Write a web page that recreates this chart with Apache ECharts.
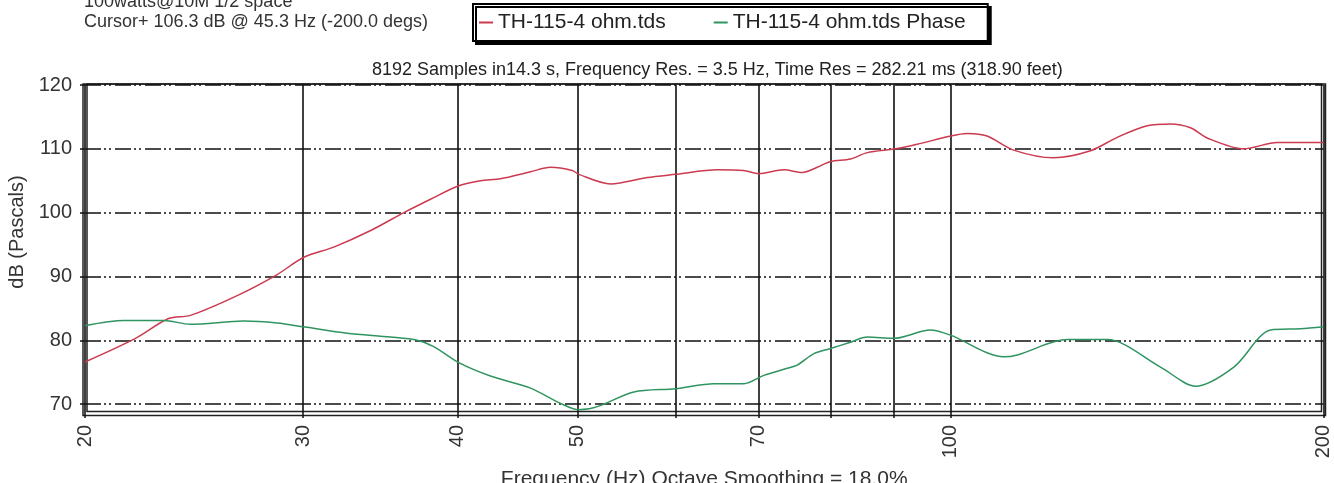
<!DOCTYPE html>
<html lang="en">
<head>
    <meta charset="UTF-8">
    <title>TH-115-4 ohm</title>
    <style>
        html, body { margin: 0; padding: 0; background: #fff; }
    </style>
</head>
<body>
    <div id="main" style="width:1334px; height:483px;"></div>
    <script src="https://cdn.jsdelivr.net/npm/echarts@6/dist/echarts.min.js"></script>
    <script>
    // magnitude curve (Hz, dB)
    var redFreq = [20, 21.97, 23.36, 24.33, 26.54, 28.59, 30.04, 31.76, 34.02, 36.18, 38.02, 40.07, 41.72, 43.3, 45.79, 47.52, 49.48, 50.09, 53.14, 56.89, 59.97, 64.79, 68.04, 70.0, 73.33, 75.89, 78.03, 79.98, 83.01, 85.63, 90.24, 93.95, 99.95, 103.1, 107.0, 112.4, 121.1, 129.7, 136.3, 144.1, 150.5, 156.2, 161.1, 172.5, 183.5, 200];
    var redDb = [76.6, 80.3, 83.4, 83.9, 87.0, 90.3, 93.0, 94.6, 97.2, 100.0, 102.1, 104.2, 105.0, 105.3, 106.4, 107.1, 106.6, 106.0, 104.5, 105.5, 106.0, 106.7, 106.6, 106.1, 106.7, 106.3, 107.1, 108.0, 108.4, 109.4, 110.0, 110.7, 112.0, 112.4, 112.0, 109.8, 108.6, 109.7, 111.8, 113.6, 113.9, 113.3, 111.7, 110.0, 111.0, 111.0];
    // phase curve, read against the dB scale
    var greenFreq = [20, 21.5, 23.15, 24.33, 26.87, 28.59, 30.04, 32.56, 35.3, 37.09, 38.25, 40.07, 42.5, 45.79, 48.42, 50.09, 51.85, 55.49, 59.97, 64.38, 68.07, 70.66, 73.79, 75.18, 77.55, 79.98, 83.01, 85.63, 89.97, 96.3, 99.95, 110.4, 113.2, 124.2, 133.8, 147.7, 157.7, 169.3, 181.3, 191.6, 200];
    var greenDb = [82.3, 83.1, 83.1, 82.5, 83.0, 82.7, 82.1, 81.1, 80.5, 80.0, 79.0, 76.5, 74.4, 72.5, 70.1, 69.1, 69.6, 71.9, 72.4, 73.2, 73.2, 74.5, 75.6, 76.1, 77.9, 78.7, 79.7, 80.5, 80.3, 81.6, 80.8, 77.4, 77.7, 80.1, 80.1, 75.8, 72.8, 75.8, 81.6, 81.8, 82.1];

    var xGridTicks = [20, 30, 40, 50, 60, 70, 80, 90, 100, 200];
    var xLabels = [20, 30, 40, 50, 70, 100, 200];
    var yTicks = [70, 80, 90, 100, 110, 120];

    var seriesNames = ['TH-115-4 ohm.tds', 'TH-115-4 ohm.tds Phase'];

    var FONT = '"Liberation Sans", Arial, sans-serif';

    function pairs(xs, ys) {
        var res = [];
        for (var i = 0; i < xs.length; i++) {
            res.push([xs[i], ys[i]]);
        }
        return res;
    }

    var myChart = echarts.init(document.getElementById('main'), null, {renderer: 'canvas'});

    myChart.setOption({
        backgroundColor: '#fff',
        animation: false,
        textStyle: {fontFamily: FONT},
        title: [
            {
                text: '8192 Samples in14.3 s, Frequency Res. = 3.5 Hz, Time Res = 282.21 ms (318.90 feet)',
                left: 372, top: 61, padding: 0,
                textStyle: {fontSize: 18, fontWeight: 'normal', color: '#222', fontFamily: FONT}
            },
            {
                text: '100watts@10M 1/2 space\nCursor+ 106.3 dB @ 45.3 Hz (-200.0 degs)',
                left: 84, top: -8, padding: 0,
                textStyle: {fontSize: 18, lineHeight: 20, fontWeight: 'normal', color: '#333', fontFamily: FONT}
            }
        ],
        legend: {
            data: seriesNames,
            left: 473, top: 4,
            padding: [8, 22, 8, 6],
            itemGap: 48,
            itemWidth: 14, itemHeight: 2,
            icon: 'rect',
            backgroundColor: '#fff',
            borderColor: '#000', borderWidth: 2,
            shadowColor: '#000', shadowBlur: 0, shadowOffsetX: 3, shadowOffsetY: 3,
            textStyle: {fontSize: 21, color: '#222', fontFamily: FONT}
        },
        grid: [
            // plot area
            {left: 85, right: 10.5, top: 85, bottom: 70, outerBoundsMode: 'none', containLabel: false},
            // double frame
            {left: 83, right: 8.5, top: 84, bottom: 67.5, outerBoundsMode: 'none', show: true, borderColor: '#222', borderWidth: 1.5, backgroundColor: 'transparent'},
            {left: 87, right: 12.5, top: 84, bottom: 71.5, outerBoundsMode: 'none', show: true, borderColor: '#222', borderWidth: 1.5, backgroundColor: 'transparent'}
        ],
        xAxis: [
            {
                type: 'log', logBase: 10, min: 20, max: 200, gridIndex: 0,
                name: 'Frequency (Hz) Octave Smoothing = 18.0%',
                nameLocation: 'middle', nameGap: 56,
                nameTextStyle: {fontSize: 21, color: '#333', fontFamily: FONT},
                axisLine: {show: false},
                axisTick: {show: true, length: 5, customValues: xGridTicks, lineStyle: {color: '#111', width: 1.5}},
                axisLabel: {customValues: xLabels, rotate: 90, margin: 12, fontSize: 20, color: '#333', fontFamily: FONT},
                splitLine: {show: true, lineStyle: {color: '#111', width: 1.6, type: 'solid'}},
                minorTick: {show: false}, minorSplitLine: {show: false}
            },
            {type: 'value', gridIndex: 1, show: false},
            {type: 'value', gridIndex: 2, show: false}
        ],
        yAxis: [
            {
                type: 'value', min: 68.6, max: 120, gridIndex: 0,
                name: 'dB (Pascals)',
                nameLocation: 'middle', nameGap: 52,
                nameTextStyle: {fontSize: 20, color: '#333', fontFamily: FONT, padding: [0, 0, 0, 34]},
                axisLine: {show: false},
                axisTick: {show: true, length: 5, customValues: yTicks, lineStyle: {color: '#111', width: 1.5}},
                axisLabel: {customValues: yTicks, margin: 13, fontSize: 20, color: '#333', fontFamily: FONT},
                splitLine: {show: true, lineStyle: {color: '#111', width: 1.6, type: [16, 3, 2, 3, 2, 4]}}
            },
            {type: 'value', gridIndex: 1, show: false},
            {type: 'value', gridIndex: 2, show: false}
        ],
        series: [
            {
                name: seriesNames[0],
                type: 'line',
                xAxisIndex: 0, yAxisIndex: 0,
                showSymbol: false,
                smooth: 0.3,
                color: '#cc3a50',
                lineStyle: {width: 1.5, color: '#cc3a50'},
                data: pairs(redFreq, redDb)
            },
            {
                name: seriesNames[1],
                type: 'line',
                xAxisIndex: 0, yAxisIndex: 0,
                showSymbol: false,
                smooth: 0.3,
                color: '#2f9461',
                lineStyle: {width: 1.5, color: '#2f9461'},
                data: pairs(greenFreq, greenDb)
            }
        ]
    });
    window.onresize = myChart.resize;
    </script>
</body>
</html>
